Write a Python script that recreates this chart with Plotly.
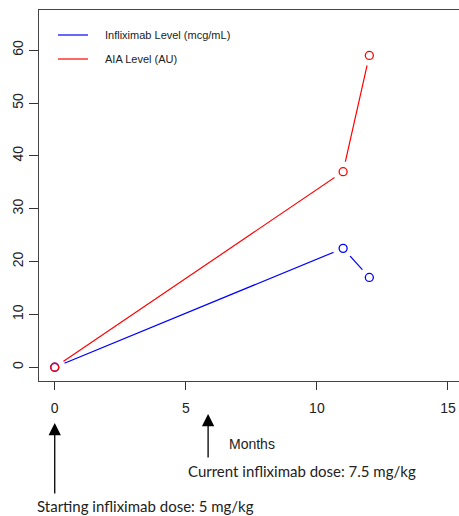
import plotly.graph_objects as go

months = [0, 11, 12]
infliximab = [0, 22.5, 17]
aia = [0, 37, 59]
x_ticks = [0, 5, 10, 15]
y_ticks = [0, 10, 20, 30, 40, 50, 60]
series_names = ["Infliximab Level (mcg/mL)", "AIA Level (AU)"]
series_colors = ["#0000ff", "#ff0000"]
arrow_months = [0, 5.85]
arrow_texts = ["Starting infliximab dose: 5 mg/kg", "Current infliximab dose: 7.5 mg/kg"]

fig = go.Figure()
for vals, col in zip([infliximab, aia], series_colors):
    fig.add_trace(go.Scatter(x=months, y=vals, mode="lines",
                             line=dict(color=col, width=1.2), showlegend=False, hoverinfo="skip"))
# white gaps around points (R type="b")
for vals in [infliximab, aia]:
    fig.add_trace(go.Scatter(x=months, y=vals, mode="markers",
                             marker=dict(symbol="circle", size=21, color="white", opacity=1,
                                         line=dict(width=0)),
                             showlegend=False, hoverinfo="skip"))
for vals, col in zip([infliximab, aia], series_colors):
    fig.add_trace(go.Scatter(x=months, y=vals, mode="markers",
                             marker=dict(symbol="circle-open", size=8, color=col, line=dict(width=1.3)),
                             showlegend=False))

FONT = "Liberation Sans, Arial, Helvetica, sans-serif"
fig.update_layout(
    width=459, height=516,
    margin=dict(l=39, r=0, t=10, b=135),
    paper_bgcolor="white", plot_bgcolor="white",
    font=dict(family=FONT, size=14, color="#222"),
    xaxis=dict(range=[-0.6, 15.42], tickvals=x_ticks, ticks="outside", ticklen=8,
               tickcolor="#333", showgrid=False, zeroline=False, showline=True,
               linecolor="#444", linewidth=1.2, mirror=True, ticklabelstandoff=6),
    yaxis=dict(range=[-2.6, 67.6], tickvals=y_ticks, ticks="outside", ticklen=9,
               tickcolor="#333", showgrid=False, zeroline=False, showline=True,
               linecolor="#444", linewidth=1.2, mirror=False, tickangle=-90),
)

# legend (manual, R-style, no box)
leg_y = [35, 59]
for name, col, py in zip(series_names, series_colors, leg_y):
    yp = 1 - (py - 10) / 371
    fig.add_shape(type="line", xref="paper", yref="paper",
                  x0=(58 - 39) / 420, x1=(88 - 39) / 420, y0=yp, y1=yp,
                  line=dict(color=col, width=1.2))
    fig.add_annotation(xref="paper", yref="paper", x=(103 - 39) / 420, y=yp,
                       text=name, showarrow=False, xanchor="left", yanchor="middle",
                       font=dict(family=FONT, size=11, color="#222"))

# Months label
fig.add_annotation(xref="paper", yref="paper", x=(252 - 39) / 420, y=-(444 - 381) / 371,
                   text="Months", showarrow=False, xanchor="center", yanchor="middle",
                   font=dict(family=FONT, size=14, color="#222"))

# arrows and dose annotations
arrow_tips = [423, 414]
arrow_tails = [495, 459]
text_pos = [(35, 506), (186, 471)]
for m, tip, tail, txt, (tx, ty) in zip(arrow_months, arrow_tips, arrow_tails, arrow_texts, text_pos):
    fig.add_annotation(xref="x", yref="paper", x=m, y=-(tip - 381) / 371,
                       ax=0, ay=tail - tip, axref="pixel", ayref="pixel",
                       text="", showarrow=True, arrowhead=2, arrowsize=1.9, arrowwidth=1.3,
                       arrowcolor="black")
    fig.add_annotation(xref="paper", yref="paper", x=(tx - 39) / 420, y=-(ty - 381) / 371,
                       text=txt, showarrow=False, xanchor="left", yanchor="middle",
                       font=dict(family="Lato, Open Sans, sans-serif", size=15, color="#222"))

fig.write_html("out.html")
